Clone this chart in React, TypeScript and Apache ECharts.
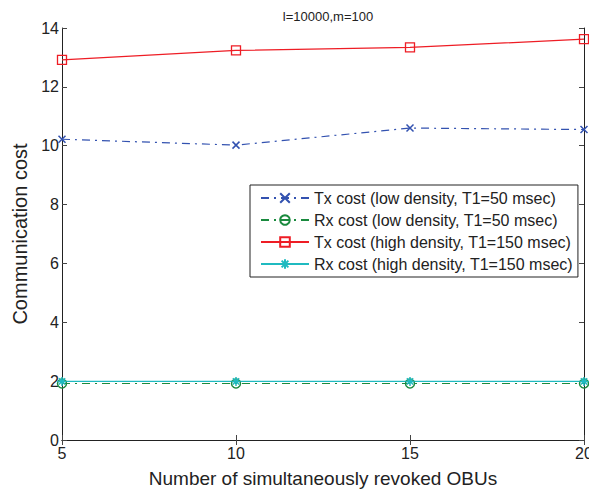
import React, { useEffect, useRef } from "react";
import * as echarts from "echarts";

const xValues = [5, 10, 15, 20];
const txLow = [10.22, 10.02, 10.6, 10.55];
const rxLow = [1.92, 1.92, 1.92, 1.92];
const txHigh = [12.92, 13.24, 13.34, 13.62];
const rxHigh = [1.99, 1.99, 1.99, 1.99];
const seriesNames = [
  "Tx cost (low density, T1=50 msec)",
  "Rx cost (low density, T1=50 msec)",
  "Tx cost (high density, T1=150 msec)",
  "Rx cost (high density, T1=150 msec)",
];
const yTicks = { min: 0, max: 14, interval: 2 };
const xTicks = { min: 5, max: 20, interval: 5 };

const CROSS = "path://M0,0L10,10M10,0L0,10";
const STAR = "path://M5,0L5,10M0,5L10,5M1.5,1.5L8.5,8.5M8.5,1.5L1.5,8.5";

const FONT = "Liberation Sans, Arial, Helvetica, sans-serif";

export default function App() {
  const ref = useRef<HTMLDivElement>(null);
  useEffect(() => {
    document.body.style.margin = "0";
    const chart = echarts.init(ref.current!, null, { renderer: "svg" });
    const pair = (arr: number[]) => xValues.map((x, i) => [x, arr[i]]);
    const colors = ["#3352B0", "#1A8A3E", "#EE1D25", "#1FBAC0"];
    const axisLine = { show: true, lineStyle: { color: "#222", width: 1 } };
    const tick = { show: true, inside: true, length: 5, lineStyle: { color: "#444" } };
    const dashDot = [8, 5, 2, 5];
    chart.setOption({
      animation: false,
      backgroundColor: "#fff",
      textStyle: { fontFamily: FONT },
      title: {
        text: "l=10000,m=100",
        left: 323,
        top: 5,
        textAlign: "center",
        textStyle: { fontSize: 13, fontWeight: "normal", color: "#222", fontFamily: FONT },
      },
      grid: { left: 62, right: 5, top: 28, bottom: 50, containLabel: false, outerBoundsMode: "none" },
      legend: {
        orient: "vertical",
        left: 250,
        top: 185,
        padding: [4, 5, 4, 10],
        itemWidth: 48,
        itemHeight: 12,
        itemGap: 4,
        borderColor: "#222",
        borderWidth: 1,
        backgroundColor: "#fff",
        textStyle: { fontSize: 16, color: "#222", fontFamily: FONT, lineHeight: 18 },
        data: seriesNames,
      },
      xAxis: [
        {
          type: "value",
          min: xTicks.min,
          max: xTicks.max,
          interval: xTicks.interval,
          position: "bottom",
          axisLine,
          axisTick: tick,
          splitLine: { show: false },
          axisLabel: { fontSize: 16, color: "#222", margin: 5, fontFamily: FONT },
          name: "Number of simultaneously revoked OBUs",
          nameLocation: "middle",
          nameGap: 29,
          nameTextStyle: { fontSize: 19, color: "#222", fontFamily: FONT },
        },
        {
          type: "value",
          min: xTicks.min,
          max: xTicks.max,
          interval: xTicks.interval,
          position: "top",
          axisLine,
          axisTick: tick,
          splitLine: { show: false },
          axisLabel: { show: false },
        },
      ],
      yAxis: [
        {
          type: "value",
          min: yTicks.min,
          max: yTicks.max,
          interval: yTicks.interval,
          position: "left",
          axisLine,
          axisTick: tick,
          splitLine: { show: false },
          axisLabel: { fontSize: 16, color: "#222", margin: 3, fontFamily: FONT },
          name: "Communication cost",
          nameLocation: "middle",
          nameGap: 29,
          nameTextStyle: { fontSize: 20, color: "#222", fontFamily: FONT },
        },
        {
          type: "value",
          min: yTicks.min,
          max: yTicks.max,
          interval: yTicks.interval,
          position: "right",
          axisLine,
          axisTick: tick,
          splitLine: { show: false },
          axisLabel: { show: false },
        },
      ],
      series: [
        {
          name: seriesNames[0],
          type: "line",
          data: pair(txLow),
          symbol: CROSS,
          symbolSize: 7,
          lineStyle: { color: colors[0], width: 1.2, type: dashDot },
          itemStyle: { color: "none", borderColor: colors[0], borderWidth: 1.5 },
        },
        {
          name: seriesNames[1],
          type: "line",
          data: pair(rxLow),
          symbol: "circle",
          symbolSize: 9,
          lineStyle: { color: colors[1], width: 1.2, type: dashDot },
          itemStyle: { color: "none", borderColor: colors[1], borderWidth: 1.5 },
        },
        {
          name: seriesNames[2],
          type: "line",
          data: pair(txHigh),
          symbol: "rect",
          symbolSize: 9,
          lineStyle: { color: colors[2], width: 1.2 },
          itemStyle: { color: "none", borderColor: colors[2], borderWidth: 1.3 },
        },
        {
          name: seriesNames[3],
          type: "line",
          data: pair(rxHigh),
          symbol: STAR,
          symbolSize: 9,
          lineStyle: { color: colors[3], width: 1.2 },
          itemStyle: { color: "none", borderColor: colors[3], borderWidth: 1.5 },
        },
      ],
    });
    return () => chart.dispose();
  }, []);
  return <div ref={ref} style={{ width: 589, height: 490 }} />;
}
